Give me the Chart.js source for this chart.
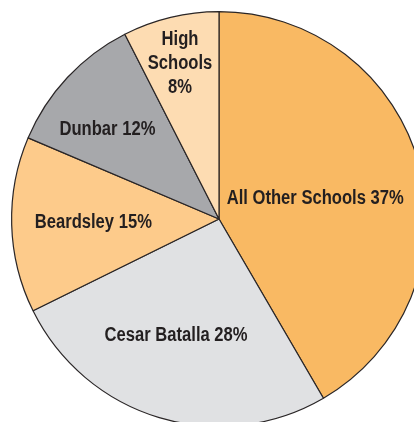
<!DOCTYPE html>
<html>
<head>
<meta charset="utf-8">
<script src="https://cdn.jsdelivr.net/npm/chart.js@4.4.1/dist/chart.umd.min.js"></script>
<style>
  html, body { margin: 0; padding: 0; background: #fff; overflow: hidden; }
  #wrap { position: absolute; left: 0; top: 0; width: 438px; height: 438px; }
</style>
</head>
<body>
<div id="wrap"><canvas id="schoolsChart" width="438" height="438"></canvas></div>
<script>
// slice order: clockwise from 12 o'clock
const schools = ["All Other Schools", "Cesar Batalla", "Beardsley", "Dunbar", "High Schools"];
// angular share of each slice as drawn in the picture
const shares = [41.6, 26.1, 13.7, 11.1, 7.5];
// percentages printed on the labels
const percents = [37, 28, 15, 12, 8];
const sliceColors = ["#f9b963", "#e0e1e3", "#fdcb8b", "#a7a8ab", "#fddcb2"];

// label lines and anchor (fraction of radius from the pie centre, baseline of first line)
const labelLines = [
  [schools[0] + " " + percents[0] + "%"],
  [schools[1] + " " + percents[1] + "%"],
  [schools[2] + " " + percents[2] + "%"],
  [schools[3] + " " + percents[3] + "%"],
  ["High", "Schools", percents[4] + "%"],
];
const labelAnchors = [
  [0.464, -0.072],
  [-0.207, 0.589],
  [-0.606, 0.044],
  [-0.538, -0.405],
  [-0.188, -0.839],
];

// condensed look: squeeze a regular bold face horizontally
const condense = 0.83;

const sliceLabels = {
  id: "sliceLabels",
  afterDatasetsDraw(chart) {
    const ctx = chart.ctx;
    const arc = chart.getDatasetMeta(0).data[0];
    const cx = arc.x, cy = arc.y, r = arc.outerRadius;
    ctx.save();
    ctx.fillStyle = "#231f20";
    ctx.font = "bold 20px 'Liberation Sans', Arial, sans-serif";
    ctx.textAlign = "center";
    ctx.textBaseline = "alphabetic";
    labelLines.forEach(function (lines, i) {
      const x = cx + labelAnchors[i][0] * r;
      const y = cy + labelAnchors[i][1] * r;
      lines.forEach(function (line, j) {
        ctx.save();
        ctx.translate(x, y + j * 24);
        ctx.scale(condense, 1);
        ctx.fillText(line, 0, 0);
        ctx.restore();
      });
    });
    ctx.restore();
  },
};

const ctx = document.getElementById("schoolsChart").getContext("2d");
new Chart(ctx, {
  type: "pie",
  data: {
    labels: schools,
    datasets: [
      {
        data: shares,
        backgroundColor: sliceColors,
        borderColor: "#2a2627",
        borderWidth: 1.2,
      },
    ],
  },
  options: {
    responsive: false,
    animation: false,
    devicePixelRatio: 1,
    layout: { padding: 11 },
    plugins: {
      legend: { display: false },
      tooltip: { enabled: false },
    },
  },
  plugins: [sliceLabels],
});
</script>
</body>
</html>
